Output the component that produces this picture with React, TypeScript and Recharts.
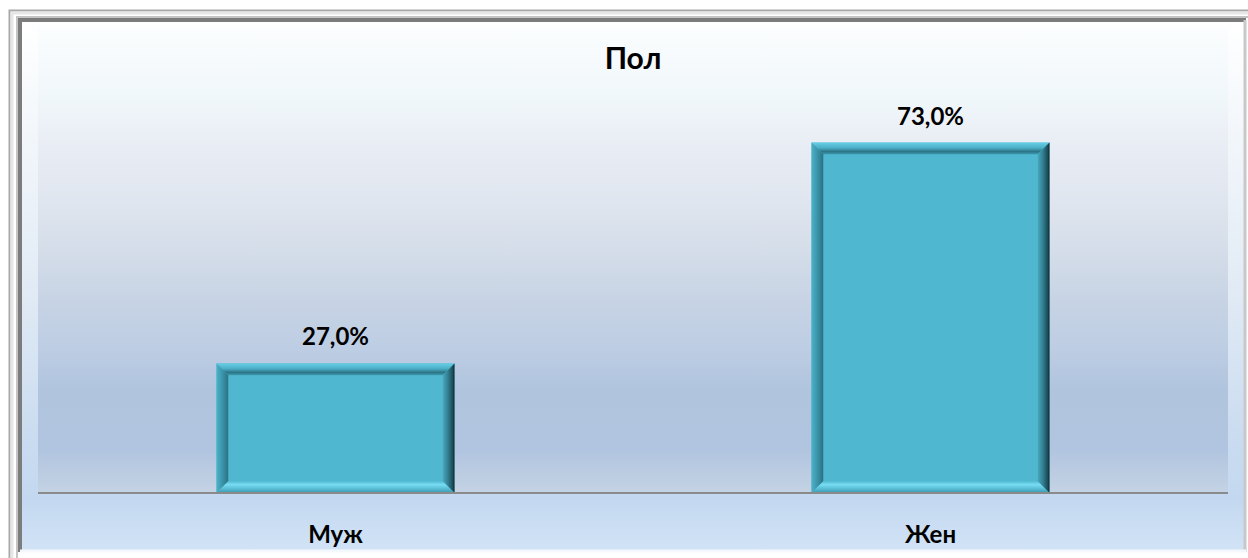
import React from "react";
import { BarChart, Bar, XAxis, YAxis, LabelList } from "recharts";

const categories: string[] = ["Муж", "Жен"];
const shares: number[] = [27.0, 73.0];
const chartTitle = "Пол";
const yDomain: [number, number] = [0, 80];

const data = categories.map((c, i) => ({ name: c, value: shares[i] }));

const FONT = "Lato, 'Open Sans', 'Noto Sans', sans-serif";

const fmt = (v: any) => `${Number(v).toFixed(1).replace(".", ",")}%`;

const BevelBar = (props: any) => {
  const { x, y, width, height } = props;
  if (!width || !height || height <= 0) return null;
  const b = 12;
  const x2 = x + width;
  const y2 = y + height;
  const ix = x + b, iy = y + b, ix2 = x2 - b, iy2 = y2 - b;
  return (
    <g>
      <rect x={x} y={y} width={width} height={height} fill="#4fb8d0" />
      <polygon points={`${x},${y} ${x2},${y} ${ix2},${iy} ${ix},${iy}`} fill="url(#bvTop)" />
      <polygon points={`${x},${y} ${ix},${iy} ${ix},${iy2} ${x},${y2}`} fill="url(#bvLeft)" />
      <polygon points={`${x2},${y} ${x2},${y2} ${ix2},${iy2} ${ix2},${iy}`} fill="url(#bvRight)" />
      <polygon points={`${x},${y2} ${ix},${iy2} ${ix2},${iy2} ${x2},${y2}`} fill="url(#bvBottom)" />
      <rect x={ix} y={iy} width={ix2 - ix} height={iy2 - iy} fill="#4fb8d0" />
    </g>
  );
};

const CatTick = (props: any) => {
  const { x, y, payload } = props;
  return (
    <text x={x} y={y + 50} textAnchor="middle" fontFamily={FONT} fontWeight={700} fontSize={24} fill="#000">
      {payload.value}
    </text>
  );
};

export default function App() {
  return (
    <div style={{ position: "absolute", left: 0, top: 0, width: 1248, height: 558, overflow: "hidden", background: "#fff" }}>
      <div
        style={{
          position: "absolute",
          left: 20,
          top: 20,
          width: 1226,
          height: 532,
          background:
            "linear-gradient(to bottom, #ffffff 0%, #f3f7fb 20%, #e2ebf5 50%, #c9dbf0 80%, #c3d8f0 90%, #d2e3f6 100%)",
        }}
      />
      <div
        style={{
          position: "absolute",
          left: 38,
          top: 28,
          width: 1190,
          height: 465,
          background:
            "linear-gradient(to bottom, #fbfdfe 0%, #f0f7fa 15%, #e8ecf4 26%, #e0e6ef 37%, #d4dde9 48%, #c8d4e5 58%, #bdcde3 69%, #b0c4de 78%, #b2c5e0 91%, #c4d3e4 100%)",
        }}
      />
      <div style={{ position: "absolute", left: 0, top: 0 }}>
        <BarChart
          width={1248}
          height={558}
          data={data}
          margin={{ top: 109, right: 20, bottom: 5, left: 38 }}
          barCategoryGap="30%"
        >
          <defs>
            <linearGradient id="bvTop" x1="0" y1="0" x2="0" y2="1">
              <stop offset="0%" stopColor="#66cee6" />
              <stop offset="45%" stopColor="#4aaec6" />
              <stop offset="75%" stopColor="#2c7486" />
              <stop offset="100%" stopColor="#3f9db3" />
            </linearGradient>
            <linearGradient id="bvLeft" x1="0" y1="0" x2="1" y2="0">
              <stop offset="0%" stopColor="#4cb2ca" />
              <stop offset="50%" stopColor="#3a93a8" />
              <stop offset="100%" stopColor="#2b6f80" />
            </linearGradient>
            <linearGradient id="bvRight" x1="0" y1="0" x2="1" y2="0">
              <stop offset="0%" stopColor="#4aa9bf" />
              <stop offset="45%" stopColor="#327f92" />
              <stop offset="85%" stopColor="#1b4c58" />
              <stop offset="100%" stopColor="#0c262e" />
            </linearGradient>
            <linearGradient id="bvBottom" x1="0" y1="0" x2="0" y2="1">
              <stop offset="0%" stopColor="#4fb8d0" />
              <stop offset="30%" stopColor="#78dcf2" />
              <stop offset="60%" stopColor="#5cc2da" />
              <stop offset="100%" stopColor="#3a97ac" />
            </linearGradient>
          </defs>
          <XAxis
            dataKey="name"
            height={60}
            tickLine={false}
            tickSize={0}
            tickMargin={0}
            axisLine={{ stroke: "#8a8a8a", strokeWidth: 2 }}
            tick={<CatTick />}
            interval={0}
          />
          <YAxis hide domain={yDomain} />
          <Bar dataKey="value" isAnimationActive={false} shape={<BevelBar />}>
            <LabelList
              dataKey="value"
              position="top"
              offset={18}
              formatter={fmt}
              style={{ fontFamily: FONT, fontWeight: 700, fontSize: 24, fill: "#000" }}
            />
          </Bar>
        </BarChart>
      </div>
      <div
        style={{
          position: "absolute",
          left: 0,
          width: 1266,
          top: 42,
          textAlign: "center",
          fontFamily: FONT,
          fontWeight: 700,
          fontSize: 30,
          lineHeight: "30px",
          color: "#000",
        }}
      >
        {chartTitle}
      </div>
      <svg width={1248} height={558} style={{ position: "absolute", left: 0, top: 0, pointerEvents: "none" }}>
        <path d="M9.5,570 L9.5,10.5 L1260,10.5" fill="none" stroke="#a8a8a8" strokeWidth={2} />
        <path d="M12,570 L12,13 L1260,13" fill="none" stroke="#e6e6e6" strokeWidth={3} />
        <path d="M17,570 L17,17 L1260,17" fill="none" stroke="#c4c4c4" strokeWidth={2} />
        <path d="M20,552 L20,20 L1246,20" fill="none" stroke="#7c7c7c" strokeWidth={4} />
        <path d="M1245,20 L1245,552" fill="none" stroke="#c8c8c8" strokeWidth={3} />
        <path d="M20,551 L1246,551" fill="none" stroke="#f4f8fc" strokeWidth={3} />
      </svg>
    </div>
  );
}
